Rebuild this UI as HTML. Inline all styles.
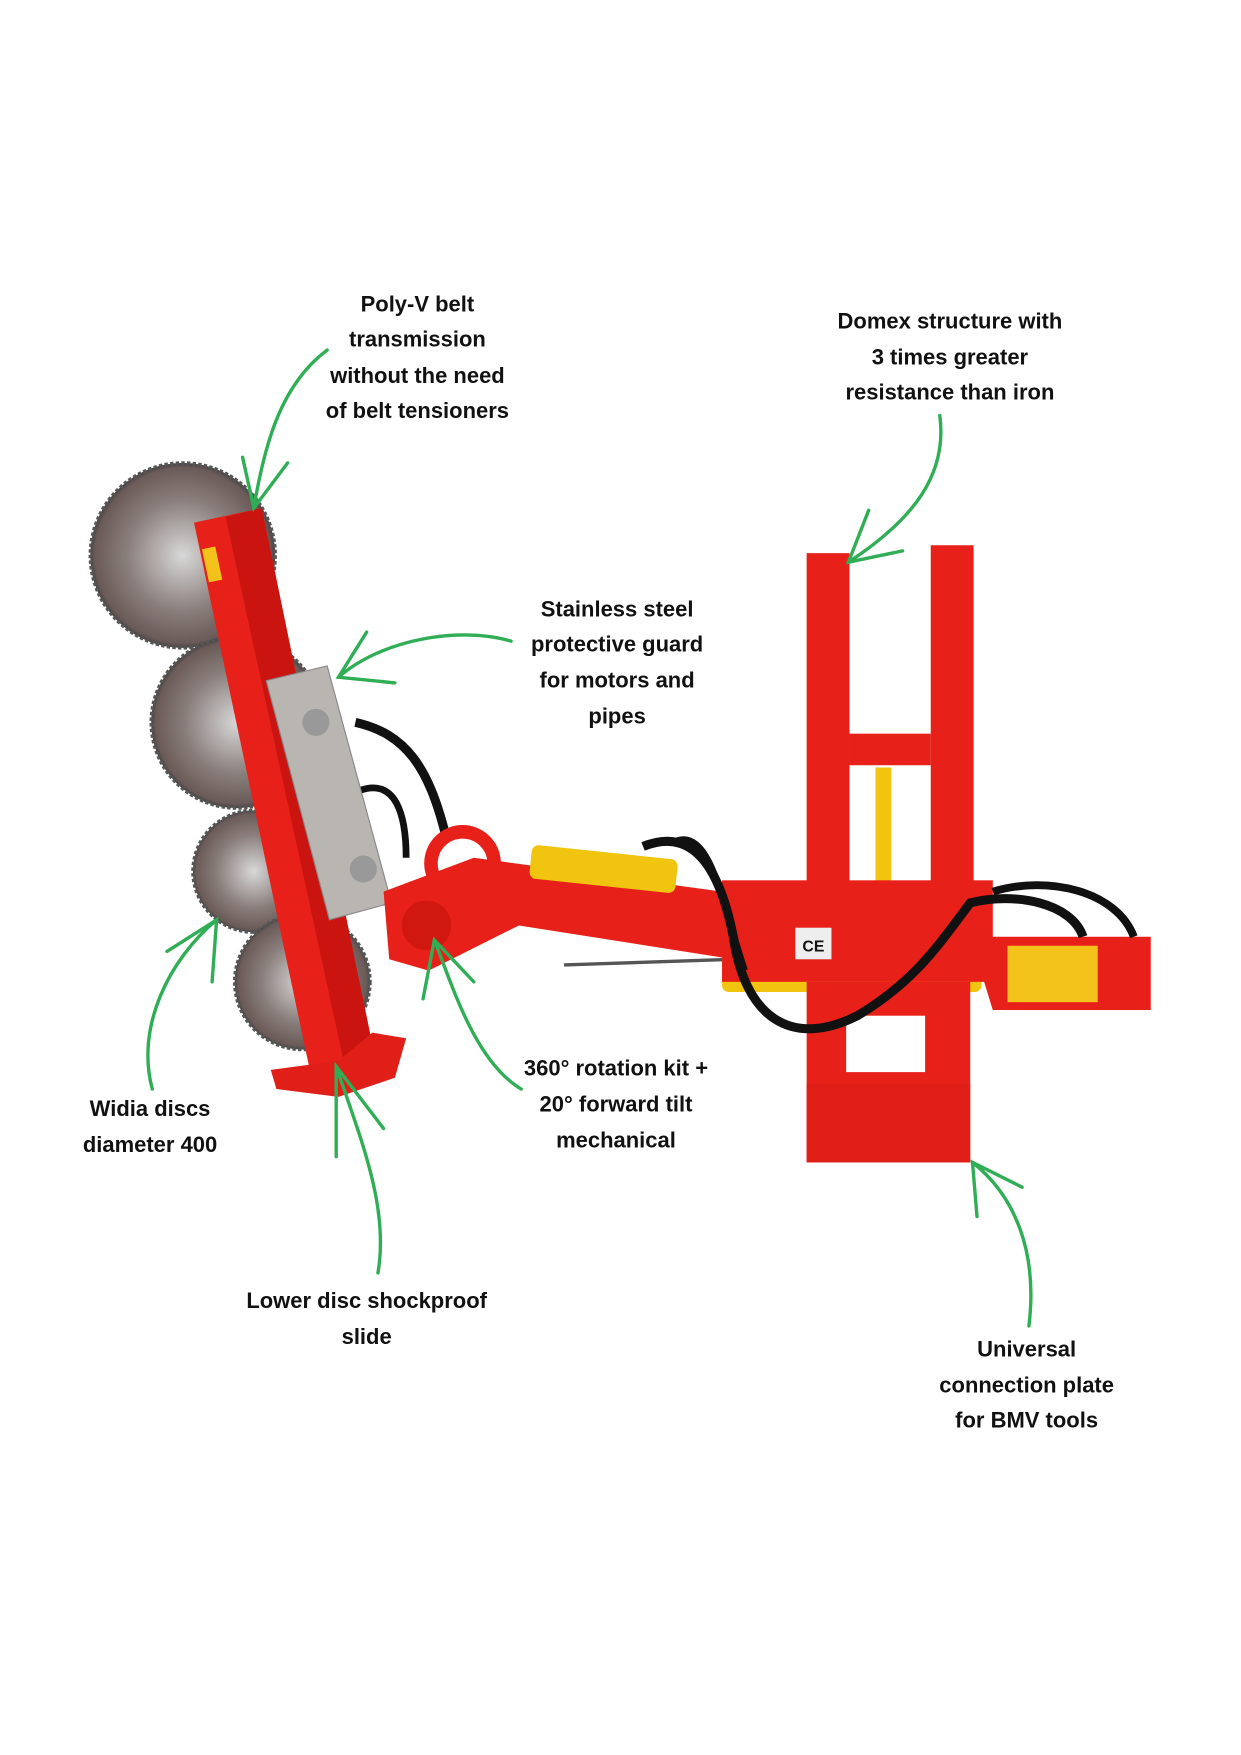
<!DOCTYPE html>
<html><head><meta charset="utf-8"><style>
html,body{margin:0;padding:0;background:#fff}
svg{display:block}
text{font-family:"Liberation Sans",sans-serif;font-weight:bold;font-size:19.5px;fill:#111;text-anchor:middle}
</style></head><body>
<svg width="1241" height="1755" viewBox="0 0 1100 1555" xmlns="http://www.w3.org/2000/svg">
<defs>
<radialGradient id="bl" cx="50%" cy="50%" r="50%"><stop offset="0" stop-color="#d8d8d8"/><stop offset="0.6" stop-color="#8a7f7c"/><stop offset="0.95" stop-color="#6a5a58"/><stop offset="1" stop-color="#444"/></radialGradient>
</defs>
<circle cx="162" cy="492" r="82" fill="url(#bl)" stroke="#555" stroke-width="3" stroke-dasharray="3 2"/>
<circle cx="210" cy="640" r="76" fill="url(#bl)" stroke="#555" stroke-width="3" stroke-dasharray="3 2"/>
<circle cx="225" cy="772" r="54" fill="url(#bl)" stroke="#555" stroke-width="3" stroke-dasharray="3 2"/>
<circle cx="268" cy="870" r="60" fill="url(#bl)" stroke="#555" stroke-width="3" stroke-dasharray="3 2"/>
<path d="M315 640 C360 650 380 680 395 740" stroke="#111" stroke-width="8" fill="none"/>
<path d="M320 700 C350 690 360 720 360 760" stroke="#111" stroke-width="6" fill="none"/>
<polygon points="172,463 232,450 332,935 275,950" fill="#e8201a"/>
<polygon points="200,458 232,450 332,935 305,942" fill="#c9140f"/>
<polygon points="240,948 300,940 330,915 360,920 350,955 300,972 245,965" fill="#e02018"/>
<rect x="182" y="485" width="12" height="30" fill="#f3c21b" transform="rotate(-12 188 500)"/>
<polygon points="236,603 290,590 347,800 292,815" fill="#b9b5b0" stroke="#888"/>
<circle cx="280" cy="640" r="12" fill="#999"/><circle cx="322" cy="770" r="12" fill="#999"/>
<polygon points="340,790 420,760 640,790 650,850 460,820 380,860 345,850" fill="#e8201a"/>
<circle cx="410" cy="765" r="28" fill="none" stroke="#e8201a" stroke-width="12"/>
<circle cx="378" cy="820" r="22" fill="#d11810"/>
<rect x="470" y="755" width="130" height="30" rx="6" fill="#f1c40f" transform="rotate(6 535 770)"/>
<rect x="640" y="865" width="230" height="14" rx="6" fill="#f1c40f"/>
<line x1="500" y1="855" x2="650" y2="850" stroke="#555" stroke-width="3"/>
<rect x="715" y="490" width="38" height="300" fill="#e8201a"/>
<rect x="825" y="483" width="38" height="310" fill="#e8201a"/>
<rect x="753" y="650" width="72" height="28" fill="#e8201a"/>
<rect x="776" y="680" width="14" height="110" fill="#f1c40f"/>
<rect x="640" y="780" width="240" height="90" fill="#e8201a"/>
<rect x="705" y="822" width="32" height="28" fill="#eee"/><text x="721" y="843" style="font-size:14px">CE</text>
<polygon points="860,830 1020,830 1020,895 880,895" fill="#e8201a"/>
<rect x="893" y="838" width="80" height="50" fill="#f3c21b"/>
<rect x="715" y="870" width="145" height="160" fill="#e8201a"/>
<rect x="750" y="900" width="70" height="50" fill="#fff"/>
<rect x="715" y="960" width="145" height="70" fill="#e02018"/>
<path d="M570 750 C620 730 640 780 650 830 C660 900 700 930 760 900 C810 870 830 840 860 800 C900 790 950 800 960 830" stroke="#111" stroke-width="8" fill="none"/>
<path d="M600 745 C630 735 640 800 660 860" stroke="#111" stroke-width="6" fill="none"/>
<path d="M880 790 C930 775 990 790 1005 830" stroke="#111" stroke-width="7" fill="none"/>
<g stroke="#2fae55" stroke-width="3" fill="none" stroke-linecap="round">
<path d="M290 310 C250 340 235 390 225 450"/><path d="M215 405 L225 450 L255 410"/>
<path d="M833 368 C840 420 810 460 752 498"/><path d="M770 452 L752 498 L800 488"/>
<path d="M453 568 C410 555 340 565 300 600"/><path d="M325 560 L300 600 L350 605"/>
<path d="M135 965 C120 910 150 850 192 815"/><path d="M148 843 L192 815 L188 870"/>
<path d="M462 965 C420 940 400 870 385 833"/><path d="M375 885 L385 833 L420 870"/>
<path d="M335 1128 C345 1070 320 1010 298 945"/><path d="M298 1025 L298 945 L340 1000"/>
<path d="M912 1175 C920 1110 900 1060 862 1030"/><path d="M866 1078 L862 1030 L906 1052"/>
</g>
<text x="370" y="276">Poly-V belt</text>
<text x="370" y="307">transmission</text>
<text x="370" y="339">without the need</text>
<text x="370" y="370">of belt tensioners</text>
<text x="842" y="291">Domex structure with</text>
<text x="842" y="323">3 times greater</text>
<text x="842" y="354">resistance than iron</text>
<text x="547" y="546">Stainless steel</text>
<text x="547" y="577">protective guard</text>
<text x="547" y="609">for motors and</text>
<text x="547" y="641">pipes</text>
<text x="546" y="953">360° rotation kit +</text>
<text x="546" y="985">20° forward tilt</text>
<text x="546" y="1017">mechanical</text>
<text x="133" y="989">Widia discs</text>
<text x="133" y="1021">diameter 400</text>
<text x="325" y="1159">Lower disc shockproof</text>
<text x="325" y="1191">slide</text>
<text x="910" y="1202">Universal</text>
<text x="910" y="1234">connection plate</text>
<text x="910" y="1265">for BMV tools</text>
</svg>
</body></html>
